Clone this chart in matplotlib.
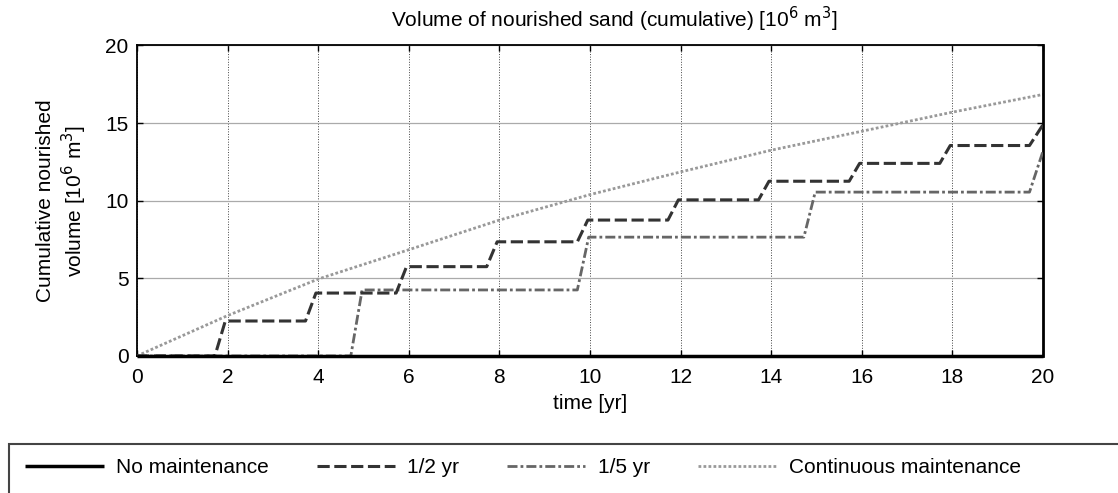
import matplotlib
matplotlib.use('Agg')
import matplotlib.pyplot as plt
from matplotlib.patches import Rectangle

''' Data read from the figure '''
# No maintenance
t_none = [0, 20]
v_none = [0, 0]

# nourishment every 2 yr
t_half = [0, 1.72, 1.95, 3.72, 3.95, 5.72, 5.95, 7.72, 7.95, 9.72, 9.95,
          11.72, 11.95, 13.72, 13.95, 15.72, 15.95, 17.72, 17.95, 19.7, 20]
v_half = [0, 0, 2.25, 2.25, 4.05, 4.05, 5.75, 5.75, 7.35, 7.35, 8.75,
          8.75, 10.05, 10.05, 11.25, 11.25, 12.4, 12.4, 13.55, 13.55, 14.9]

# nourishment every 5 yr
t_five = [0, 4.72, 4.97, 9.72, 9.97, 14.72, 14.97, 19.7, 20]
v_five = [0, 0, 4.25, 4.25, 7.65, 7.65, 10.55, 10.55, 13.2]

# continuous maintenance
t_cont = [0, 2, 4, 6, 8, 10, 12, 14, 16, 18, 20]
v_cont = [0, 2.6, 4.95, 6.84, 8.75, 10.39, 11.85, 13.25, 14.47, 15.7, 16.84]

labels = ['No maintenance', '1/2 yr', '1/5 yr', 'Continuous maintenance']
x_ticks = [0, 2, 4, 6, 8, 10, 12, 14, 16, 18, 20]
y_ticks = [0, 5, 10, 15, 20]

''' Setup '''
plt.rcParams['font.family'] = ['Liberation Sans', 'DejaVu Sans']
fs = 15

fig = plt.figure(figsize=(11.18, 4.93), dpi=100)
ax = fig.add_axes([0.1225, 0.278, 0.8105, 0.630])

''' Graphing '''
l1, = ax.plot(t_none, v_none, color='black', lw=2.5, solid_capstyle='butt', clip_on=False, zorder=5, label=labels[0])
l2, = ax.plot(t_half, v_half, color='#333333', lw=2.2, dashes=(4, 1.5), label=labels[1], zorder=4)
l3, = ax.plot(t_five, v_five, color='#666666', lw=2.0, dashes=(3.6, 1.1, 1, 1.1), label=labels[2], zorder=3)
l4, = ax.plot(t_cont, v_cont, color='#999999', lw=2.0, dashes=(1, 0.8), label=labels[3], zorder=2)

ax.set_xlim(0, 20)
ax.set_ylim(0, 20)
ax.set_xticks(x_ticks)
ax.set_yticks(y_ticks)
ax.tick_params(direction='in', length=4, width=1, top=True, right=True, labelsize=fs)
ax.tick_params(axis='x', pad=9)
ax.tick_params(axis='y', pad=6)
ax.xaxis.grid(True, color='#444444', linestyle=':', lw=0.7)
ax.yaxis.grid(True, color='#aaaaaa', linestyle='-', lw=0.9)
for s in ['left', 'bottom', 'top']:
    ax.spines[s].set_linewidth(1.3)
ax.spines['right'].set_linewidth(2.0)

ax.set_title('Volume of nourished sand (cumulative) [10$^6$ m$^3$]', fontsize=fs, pad=13, x=0.527)
ax.set_xlabel('time [yr]', fontsize=fs, labelpad=5)
ax.set_ylabel('Cumulative nourished\nvolume [10$^6$ m$^3$]', fontsize=fs, labelpad=12, linespacing=1.2)

# legend box at the bottom (runs off the page edge)
fig.add_artist(Rectangle((9 / 1118, -0.1), 1.2, 0.1 + (493 - 444) / 493, transform=fig.transFigure,
                         fill=False, edgecolor='#444444', lw=1.5))
fig.legend(handles=[l1, l2, l3, l4], loc='center left', bbox_to_anchor=(0.006, 0.052), ncol=4,
           frameon=False, fontsize=fs, handlelength=3.75, handletextpad=0.6, columnspacing=2.3)

fig.savefig('out.png', dpi=100)
